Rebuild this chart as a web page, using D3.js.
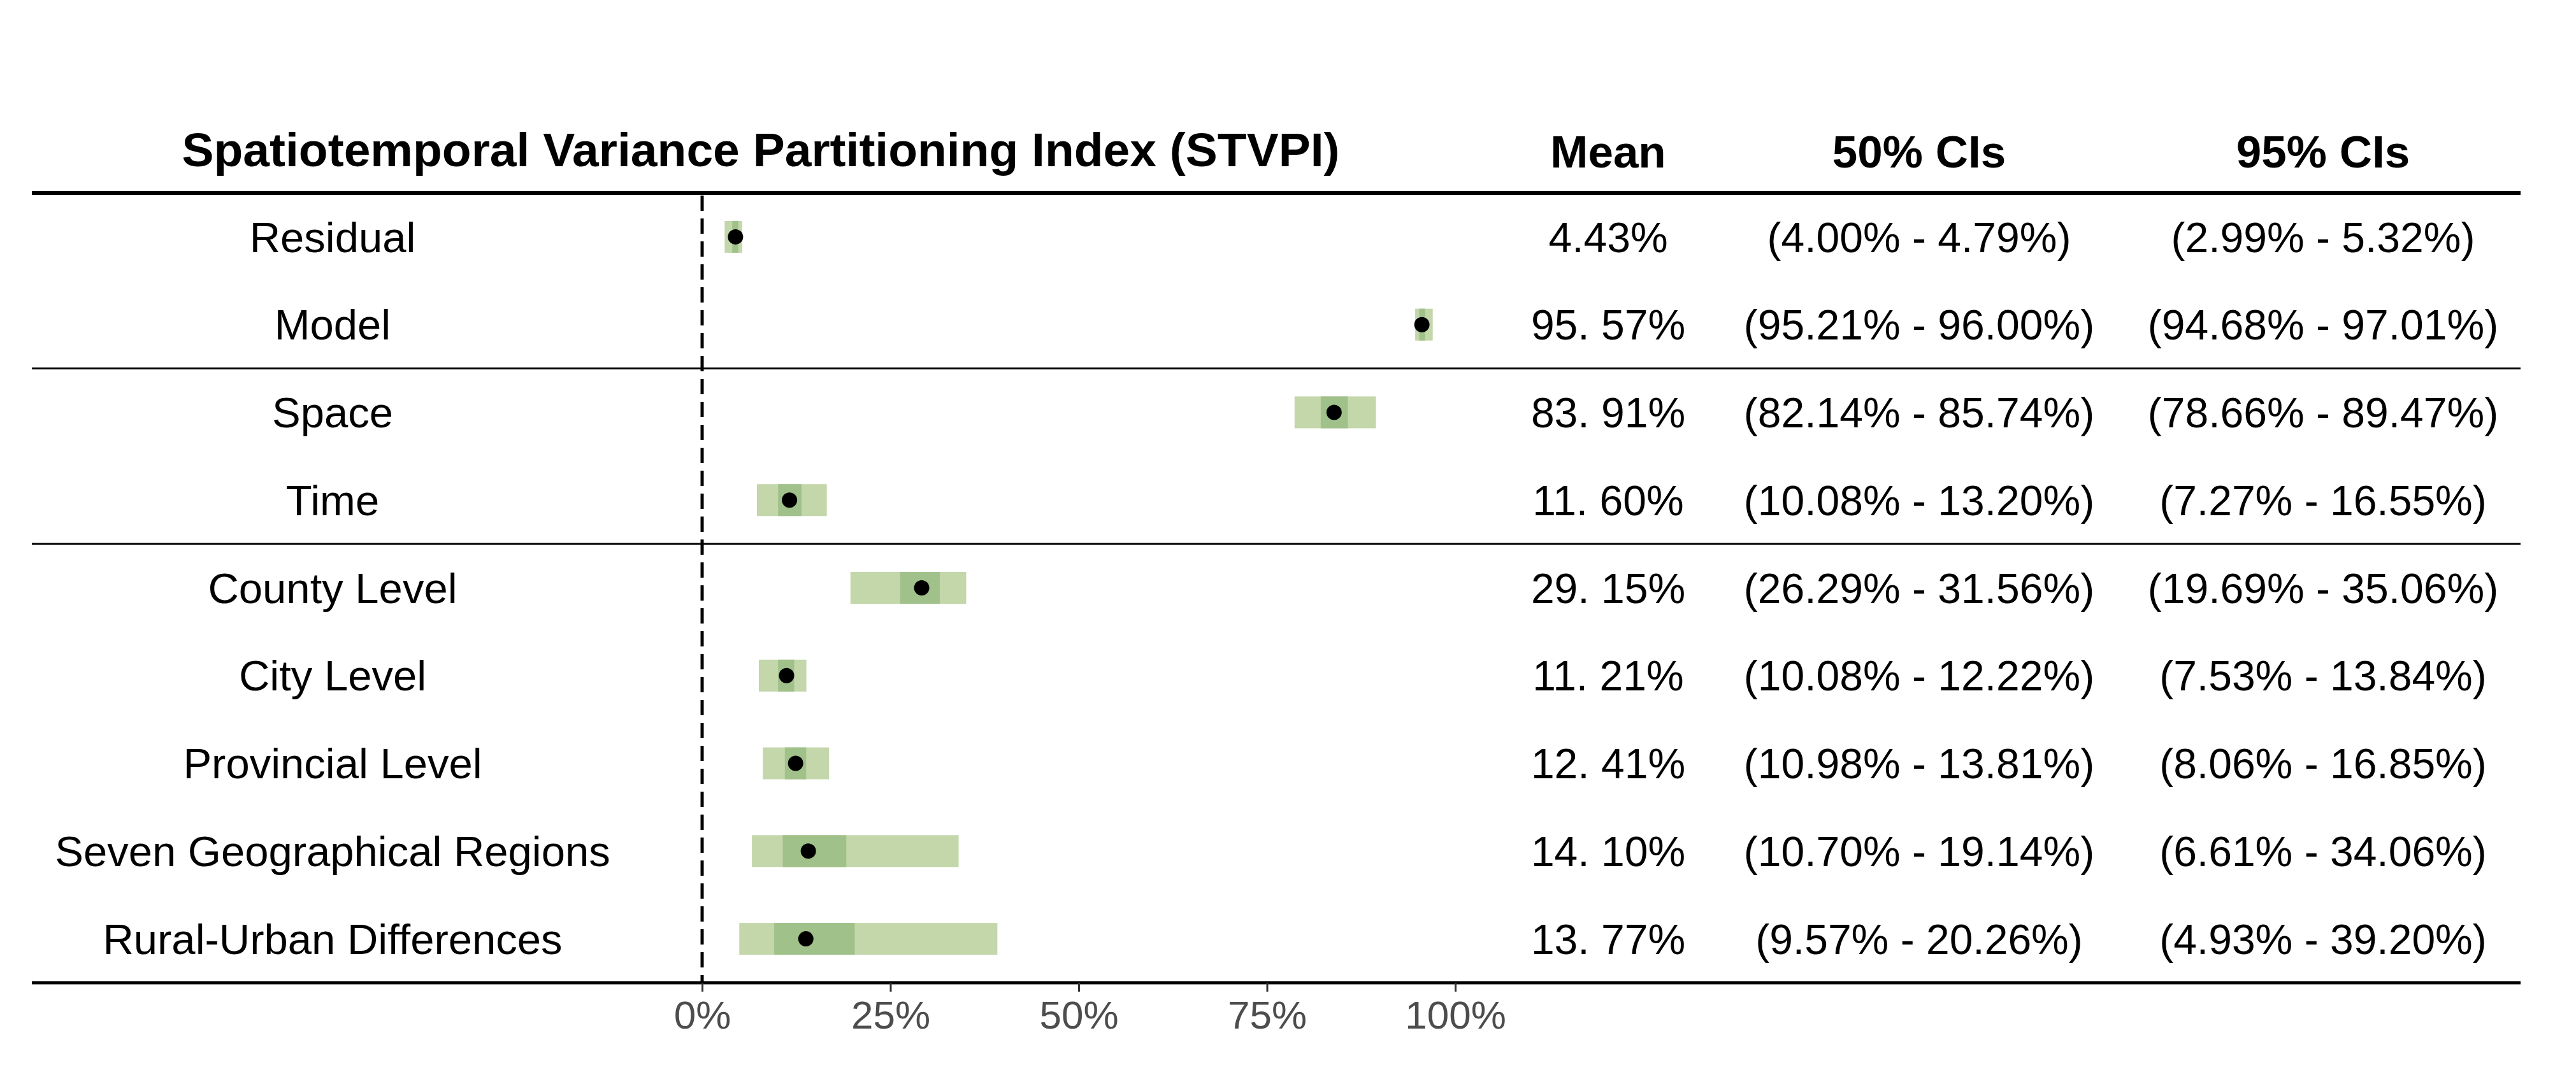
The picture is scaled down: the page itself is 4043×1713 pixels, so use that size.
<!DOCTYPE html>
<html lang="en">
<head>
<meta charset="UTF-8">
<title>STVPI</title>
<script src="https://d3js.org/d3.v7.min.js"></script>
<style>
  body { margin: 0; background: #fff; }
  text { font-family: "Liberation Sans", Arial, sans-serif; }
</style>
</head>
<body>
<div id="chart"></div>
<script>
// data
const labels = ["Residual", "Model", "Space", "Time", "County Level", "City Level",
  "Provincial Level", "Seven Geographical Regions", "Rural-Urban Differences"];
const means = [4.43, 95.57, 83.91, 11.60, 29.15, 11.21, 12.41, 14.10, 13.77];
const meanLabels = ["4.43%", "95. 57%", "83. 91%", "11. 60%", "29. 15%", "11. 21%",
  "12. 41%", "14. 10%", "13. 77%"];
const lo50 = [4.00, 95.21, 82.14, 10.08, 26.29, 10.08, 10.98, 10.70, 9.57];
const hi50 = [4.79, 96.00, 85.74, 13.20, 31.56, 12.22, 13.81, 19.14, 20.26];
const lo95 = [2.99, 94.68, 78.66, 7.27, 19.69, 7.53, 8.06, 6.61, 4.93];
const hi95 = [5.32, 97.01, 89.47, 16.55, 35.06, 13.84, 16.85, 34.06, 39.20];
const groupBreaks = ["Space", "County Level"];   // thin rule above these rows
const xTicks = [0, 25, 50, 75, 100];
const headers = ["Mean", "50% CIs", "95% CIs"];

const W = 4043, H = 1713;
const mLeft = 50, mRight = 3956, mTop = 303, mBottom = 1543;

const svg = d3.select("#chart").append("svg")
  .attr("width", W).attr("height", H);

const x = d3.scaleLinear().domain([0, 100]).range([1102, 2284]);
const y = d3.scaleBand().domain(labels).range([mTop, mBottom]).padding(0);
const colX = [2524, 3012, 3646];
const fmt = v => v.toFixed(2) + "%";

const rows = labels.map((d, i) => ({
  label: d, mean: means[i], meanLabel: meanLabels[i],
  lo50: lo50[i], hi50: hi50[i], lo95: lo95[i], hi95: hi95[i]
}));

// header
svg.append("text")
  .attr("x", 1194).attr("y", 261)
  .attr("text-anchor", "middle")
  .attr("font-size", 75).attr("font-weight", "bold")
  .text("Spatiotemporal Variance Partitioning Index (STVPI)");

svg.selectAll(".hdr").data(headers).enter().append("text")
  .attr("class", "hdr")
  .attr("x", (d, i) => colX[i]).attr("y", 263)
  .attr("text-anchor", "middle")
  .attr("font-size", 71).attr("font-weight", "bold")
  .text(d => d);

// zero reference line
svg.append("line")
  .attr("x1", x(0)).attr("x2", x(0))
  .attr("y1", mTop + 4).attr("y2", mBottom)
  .attr("stroke", "#000").attr("stroke-width", 5)
  .attr("stroke-dasharray", "24,12");

const bh = 50;
const g = svg.selectAll(".row").data(rows).enter().append("g")
  .attr("class", "row")
  .attr("transform", d => `translate(0,${y(d.label) + y.bandwidth() / 2})`);

g.append("rect")
  .attr("x", d => x(d.lo95)).attr("width", d => x(d.hi95) - x(d.lo95))
  .attr("y", -bh / 2).attr("height", bh)
  .attr("fill", "#c3d7ab");

g.append("rect")
  .attr("x", d => x(d.lo50)).attr("width", d => x(d.hi50) - x(d.lo50))
  .attr("y", -bh / 2).attr("height", bh)
  .attr("fill", "#a1c18a");

g.append("circle")
  .attr("cx", d => x(d.mean)).attr("r", 12)
  .attr("fill", "#000");

const fs = 66, cap = 0.358 * fs;
g.append("text")
  .attr("x", 522).attr("y", cap)
  .attr("text-anchor", "middle").attr("font-size", 67)
  .text(d => d.label);

g.append("text")
  .attr("x", colX[0]).attr("y", cap)
  .attr("text-anchor", "middle").attr("font-size", fs)
  .text(d => d.meanLabel);

g.append("text")
  .attr("x", colX[1]).attr("y", cap)
  .attr("text-anchor", "middle").attr("font-size", fs)
  .text(d => `(${fmt(d.lo50)} - ${fmt(d.hi50)})`);

g.append("text")
  .attr("x", colX[2]).attr("y", cap)
  .attr("text-anchor", "middle").attr("font-size", fs)
  .text(d => `(${fmt(d.lo95)} - ${fmt(d.hi95)})`);

// table rules
svg.append("line")
  .attr("x1", mLeft).attr("x2", mRight).attr("y1", mTop).attr("y2", mTop)
  .attr("stroke", "#000").attr("stroke-width", 6);
svg.selectAll(".sep").data(groupBreaks).enter().append("line")
  .attr("x1", mLeft).attr("x2", mRight)
  .attr("y1", d => y(d)).attr("y2", d => y(d))
  .attr("stroke", "#000").attr("stroke-width", 3);
svg.append("line")
  .attr("x1", mLeft).attr("x2", mRight).attr("y1", mBottom).attr("y2", mBottom)
  .attr("stroke", "#000").attr("stroke-width", 5);

// x axis
const ax = svg.append("g")
  .attr("transform", `translate(0,${mBottom})`)
  .call(d3.axisBottom(x).tickValues(xTicks).tickFormat(d => d + "%")
    .tickSize(14).tickPadding(14));
ax.select(".domain").remove();
ax.selectAll(".tick line").attr("stroke", "#333").attr("stroke-width", 3);
ax.selectAll(".tick text")
  .attr("font-size", 62).attr("fill", "#4d4d4d")
  .attr("font-family", "Liberation Sans, Arial, sans-serif");
</script>
</body>
</html>
